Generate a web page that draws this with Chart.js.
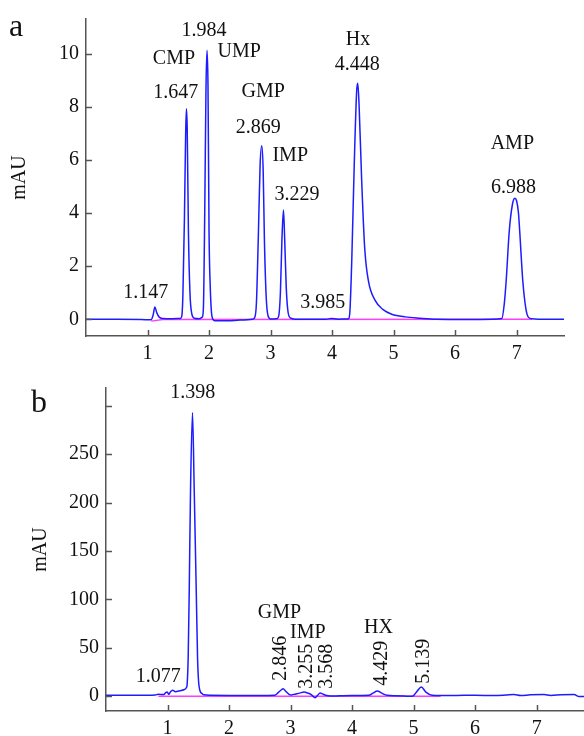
<!DOCTYPE html>
<html>
<head>
<meta charset="utf-8">
<script src="https://cdn.jsdelivr.net/npm/chart.js@4.4.1/dist/chart.umd.min.js"></script>
<style>
  html, body { margin: 0; padding: 0; background: #fff; }
  #wrap { position: relative; width: 584px; height: 736px; overflow: hidden; }
  canvas { position: absolute; left: 0; }
</style>
</head>
<body>
<div id="wrap">
  <canvas id="chartA" width="584" height="368" style="top:0"></canvas>
  <canvas id="chartB" width="584" height="376" style="top:360px"></canvas>
</div>
<script>
// ---- panel a: standard mix ----
const timeA = [0, 0.5, 0.9, 1.06, 1.09, 1.12, 1.15, 1.19, 1.25, 1.4, 1.53,
  1.556, 1.575, 1.60, 1.62, 1.632, 1.645, 1.665, 1.69, 1.72, 1.76, 1.84,
  1.89, 1.908, 1.93, 1.95, 1.967, 1.983, 2.0, 2.02, 2.04, 2.07, 2.1, 2.3, 2.5, 2.7,
  2.74, 2.77, 2.80, 2.83, 2.857, 2.88, 2.90, 2.93, 2.96, 3.0, 3.1,
  3.13, 3.16, 3.185, 3.21, 3.23, 3.255, 3.28, 3.32, 3.4,
  3.9, 3.985, 4.1, 4.25,
  4.27, 4.29, 4.32, 4.36, 4.40, 4.418, 4.44, 4.48, 4.53, 4.59, 4.70, 4.83, 4.97, 5.19, 5.43, 5.7, 6.2, 6.6,
  6.76, 6.80, 6.83, 6.88, 6.93, 6.97, 7.0, 7.03, 7.05, 7.10, 7.15, 7.19, 7.25, 7.5, 7.77];
const signalA = [0, 0, -0.01, -0.02, 0.15, 0.46, 0.25, 0.08, 0.03, 0.02, 0.03,
  0.1, 0.9, 3.8, 7.0, 7.92, 7.2, 3.3, 1.0, 0.2, 0.04, 0.02,
  0.08, 0.4, 4.0, 8.6, 10.12, 8.8, 3.3, 1.2, 0.25, -0.02, -0.06, -0.06, -0.03, 0.0,
  0.05, 0.6, 3.0, 5.8, 6.53, 5.6, 3.0, 0.8, 0.12, 0.01, 0.02,
  0.1, 1.0, 3.0, 4.11, 3.0, 1.2, 0.35, 0.05, 0.0,
  0.0, 0.03, 0.0, 0.01,
  0.02, 0.3, 2.2, 5.8, 8.6, 8.88, 8.0, 5.3, 2.69, 1.45, 0.71, 0.36, 0.19, 0.09, 0.04, 0.0, -0.01, 0.0,
  0.03, 0.6, 1.45, 3.31, 4.3, 4.55, 4.45, 4.0, 3.31, 1.45, 0.4, 0.08, 0.02, 0.0, 0.0];
const baseTimeA = [1.06, 1.25, 7.25];
const baseSignalA = [-0.07, -0.01, 0.0];
const yTicksA = [0, 2, 4, 6, 8, 10];
const yLabelsA = ['0', '2', '4', '6', '8', '10'];

// ---- panel b: sample ----
const timeB = [0, 0.5, 0.8, 0.85, 0.9, 0.94, 0.97, 0.995, 1.02, 1.05, 1.08, 1.13, 1.2, 1.265, 1.31,
  1.32, 1.336, 1.353, 1.374, 1.406, 1.434, 1.467, 1.488, 1.505, 1.525, 1.56, 1.59, 1.7, 2.0, 2.5,
  2.74, 2.80, 2.85, 2.88, 2.92, 2.97, 3.01, 3.05, 3.15, 3.22, 3.28, 3.33, 3.40, 3.44, 3.48, 3.52, 3.57, 3.65,
  3.8, 4.0, 4.27, 4.34, 4.41, 4.48, 4.57, 4.7, 4.85, 4.95, 5.0, 5.06, 5.125, 5.2, 5.3, 5.45,
  5.7, 6.0, 6.31, 6.5, 6.63, 6.74, 6.9, 7.12, 7.23, 7.4, 7.61, 7.69, 7.77];
const signalB = [0.7, 0.7, 1.0, 1.8, 1.6, 1.5, 3.5, 4.2, 1.7, 4.5, 6, 4.5, 5.5, 6.5, 9,
  13, 40, 109, 213, 293, 213, 109, 40, 15, 6, 2.5, 1.2, 0.7, 0.6, 0.6,
  0.8, 3.5, 6.5, 7.6, 5.0, 2.0, 1.0, 1.7, 3.0, 4.1, 3.0, 1.7, -1.7, 0.8, 3.1, 2.2, 0.7, 0.0,
  0.2, 0.4, 0.7, 3.0, 5.2, 3.0, 0.7, 0.3, 0.0, -0.3, 0.5, 5.2, 9.3, 4.0, 0.7, 0.5,
  0.6, 0.8, 0.5, 1.0, 1.5, 0.5, 1.2, 1.5, 0.6, 1.3, 1.5, -0.6, -0.5];
const baseTimeB = [0.85, 5.44];
const baseSignalB = [-0.3, -0.3];
const yTicksB = [0, 50, 100, 150, 200, 250, 300];
const yLabelsB = ['0', '50', '100', '150', '200', '250', ''];

const xTicks = [1, 2, 3, 4, 5, 6, 7];

// peak annotations, anchored in data units
const notesA = [
  { text: '1.147', x: 0.97, y: 1.0 },
  { text: 'CMP', x: 1.43, y: 9.81 },
  { text: '1.647', x: 1.46, y: 8.51 },
  { text: '1.984', x: 1.92, y: 10.86 },
  { text: 'UMP', x: 2.49, y: 10.07 },
  { text: 'GMP', x: 2.88, y: 8.55 },
  { text: '2.869', x: 2.80, y: 7.19 },
  { text: 'IMP', x: 3.32, y: 6.17 },
  { text: '3.229', x: 3.43, y: 4.68 },
  { text: '3.985', x: 3.85, y: 0.63 },
  { text: 'Hx', x: 4.42, y: 10.52 },
  { text: '4.448', x: 4.41, y: 9.59 },
  { text: 'AMP', x: 6.93, y: 6.62 },
  { text: '6.988', x: 6.95, y: 4.94 }
];
const notesB = [
  { text: '1.398', x: 1.41, y: 314 },
  { text: '1.077', x: 0.85, y: 19.4 },
  { text: 'GMP', x: 2.82, y: 85.6 },
  { text: '2.846', x: 2.84, y: 39, rot: true },
  { text: 'IMP', x: 3.28, y: 64.9 },
  { text: '3.255', x: 3.26, y: 30.7, rot: true },
  { text: '3.568', x: 3.59, y: 30.7, rot: true },
  { text: 'HX', x: 4.43, y: 70.1 },
  { text: '4.429', x: 4.48, y: 33.9, rot: true },
  { text: '5.139', x: 5.16, y: 35.9, rot: true }
];

const SERIF = "'Liberation Serif', 'Times New Roman', serif";
const AXIS = '#555';

const toPoints = (xs, ys) => xs.map((x, i) => ({ x, y: ys[i] }));

// inward tick marks, peak labels and panel letter
const overlay = {
    id: 'overlay',
    afterDraw(chart, args, opts) {
        const ctx = chart.ctx;
        const { x: xs, y: ys } = chart.scales;
        const area = chart.chartArea;
        ctx.save();
        ctx.strokeStyle = AXIS;
        ctx.lineWidth = 1.5;
        ctx.beginPath();
        xs.ticks.forEach(t => {
            const px = Math.round(xs.getPixelForValue(t.value)) + 0.5;
            ctx.moveTo(px, area.bottom);
            ctx.lineTo(px, area.bottom - 6);
        });
        ys.ticks.forEach(t => {
            const py = Math.round(ys.getPixelForValue(t.value)) + 0.5;
            ctx.moveTo(area.left, py);
            ctx.lineTo(area.left + 6, py);
        });
        ctx.stroke();

        ctx.fillStyle = '#111';
        ctx.font = '20px ' + SERIF;
        ctx.textAlign = 'center';
        ctx.textBaseline = 'middle';
        opts.notes.forEach(n => {
            const px = xs.getPixelForValue(n.x);
            const py = ys.getPixelForValue(n.y);
            if (n.rot) {
                ctx.save();
                ctx.translate(px, py);
                ctx.rotate(-Math.PI / 2);
                ctx.fillText(n.text, 0, 0);
                ctx.restore();
            } else {
                ctx.fillText(n.text, px, py);
            }
        });

        ctx.font = '32px ' + SERIF;
        ctx.textAlign = 'left';
        ctx.textBaseline = 'alphabetic';
        ctx.fillText(opts.letter, opts.letterX, opts.letterY);
        ctx.restore();
    }
};

function makeChart(id, cfg) {
    return new Chart(document.getElementById(id), {
        type: 'line',
        data: {
            datasets: [
                {
                    data: toPoints(cfg.time, cfg.signal),
                    borderColor: '#1c1cff',
                    borderWidth: 1.5,
                    pointRadius: 0,
                    cubicInterpolationMode: 'monotone'
                },
                {
                    data: toPoints(cfg.baseTime, cfg.baseSignal),
                    borderColor: '#ff3cff',
                    borderWidth: 1.5,
                    pointRadius: 0
                }
            ]
        },
        options: {
            responsive: false,
            animation: false,
            layout: { padding: cfg.padding },
            plugins: {
                legend: { display: false },
                tooltip: { enabled: false },
                overlay: { notes: cfg.notes, letter: cfg.letter, letterX: cfg.letterX, letterY: cfg.letterY }
            },
            scales: {
                x: {
                    type: 'linear',
                    min: 0,
                    max: 7.77,
                    afterFit: s => { s.height = cfg.xHeight; },
                    afterBuildTicks: s => { s.ticks = xTicks.map(v => ({ value: v })); },
                    grid: { drawOnChartArea: false, drawTicks: false },
                    border: { color: AXIS, width: 1.5 },
                    ticks: {
                        padding: 6,
                        color: '#111',
                        font: { family: SERIF, size: 20 },
                        maxRotation: 0,
                        autoSkip: false
                    }
                },
                y: {
                    min: cfg.yMin,
                    max: cfg.yMax,
                    afterFit: s => { s.width = cfg.yWidth; },
                    afterBuildTicks: s => { s.ticks = cfg.yTicks.map(v => ({ value: v })); },
                    grid: { drawOnChartArea: false, drawTicks: false },
                    border: { color: AXIS, width: 1.5 },
                    ticks: {
                        padding: 7,
                        color: '#111',
                        font: { family: SERIF, size: 20 },
                        autoSkip: false,
                        callback: (v, i) => cfg.yLabels[i]
                    },
                    title: {
                        display: true,
                        text: 'mAU',
                        color: '#111',
                        font: { family: SERIF, size: 20 },
                        padding: { top: cfg.titlePad, bottom: 0 }
                    }
                }
            }
        },
        plugins: [overlay]
    });
}

makeChart('chartA', {
    time: timeA, signal: signalA, baseTime: baseTimeA, baseSignal: baseSignalA,
    yMin: -0.63, yMax: 11.3, yTicks: yTicksA, yLabels: yLabelsA,
    notes: notesA, letter: 'a', letterX: 9, letterY: 36,
    padding: { left: 0, right: 20, top: 14, bottom: 0 },
    xHeight: 32, yWidth: 86, titlePad: 8
});

makeChart('chartB', {
    time: timeB, signal: signalB, baseTime: baseTimeB, baseSignal: baseSignalB,
    yMin: -15.5, yMax: 318.5, yTicks: yTicksB, yLabels: yLabelsB,
    notes: notesB, letter: 'b', letterX: 31, letterY: 52,
    padding: { left: 0, right: 0, top: 28, bottom: 0 },
    xHeight: 25, yWidth: 106, titlePad: 29
});
</script>
</body>
</html>
